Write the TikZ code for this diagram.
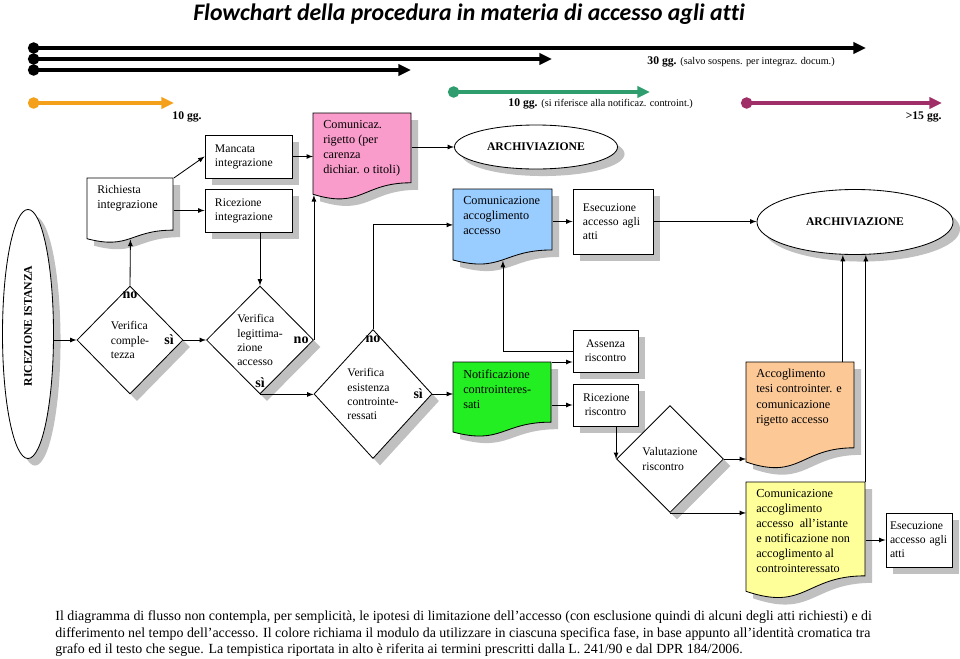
\documentclass[tikz,border=0pt]{standalone}
\usepackage{fontspec}
\setmainfont{Liberation Serif}
\newfontfamily\titlefont[Ligatures=NoCommon]{Carlito}
\usetikzlibrary{shapes.geometric,shadows,arrows.meta}

\definecolor{shadowgray}{HTML}{C0C0C0}
\definecolor{rigettopink}{HTML}{F99CCB}
\definecolor{accessoblue}{HTML}{99CCFF}
\definecolor{notifgreen}{HTML}{22EE22}
\definecolor{accoglpeach}{HTML}{FBC896}
\definecolor{comunicyellow}{HTML}{FFFF99}
\definecolor{lineorange}{HTML}{F5A01A}
\definecolor{linegreen}{HTML}{2F9D6E}
\definecolor{linemagenta}{HTML}{A02F68}

% document shape: name, x, y, width, height (pixels), fill, text
\newcommand{\docnode}[7]{%
  \filldraw[docshape, fill=#6] (#2,#3) -- ({#2+#4},#3) -- ({#2+#4},{#3+0.802*#5})
    .. controls ({#2+0.5*#4},{#3+0.802*#5}) and ({#2+0.5*#4},{#3+1.1075*#5}) .. (#2,{#3+0.934*#5}) -- cycle;
  \node[docarea, minimum width={#4*0.025cm}, minimum height={0.934*#5*0.025cm},
    label={[doctext]north west:{#7}}] (#1) at (#2,#3) {};
}

\begin{document}
\begin{tikzpicture}[x=0.025cm,y=-0.025cm,>=latex,line width=0.6pt]
        \tikzstyle{shadowed} = [drop shadow={shadow xshift=5pt, shadow yshift=-5pt, opacity=1, fill=shadowgray}]
        \tikzstyle{block} = [rectangle, draw, fill=white, shadowed, align=left, inner xsep=0.25cm, font=\fontsize{8.3}{10}\selectfont]
        \tikzstyle{decision} = [diamond, draw, fill=white, shadowed, inner sep=0pt, align=left, font=\fontsize{8.3}{10}\selectfont]
        \tikzstyle{terminal} = [ellipse, draw, fill=white, shadowed, font=\bfseries\fontsize{8.3}{10}\selectfont]
        \tikzstyle{docshape} = [draw, shadowed]
        \tikzstyle{docarea} = [rectangle, anchor=north west, inner sep=0pt]
        \tikzstyle{doctext} = [anchor=north west, align=left, inner xsep=7pt, inner ysep=5pt, font=\fontsize{8.7}{10.7}\selectfont]
        \tikzstyle{answer} = [font=\bfseries\fontsize{10}{12}\selectfont, inner sep=1.5pt]
        \tikzstyle{arrow} = [->]
        \tikzstyle{timeline} = [line width=2.6pt, {Circle[length=8pt]}-{Triangle[length=9pt,width=8pt]}]
        \tikzstyle{daylabel} = [inner sep=0pt, font=\bfseries\fontsize{8.3}{10}\selectfont]

        \useasboundingbox (0,0) rectangle (960,658);

        % Title
        \node[font=\titlefont\bfseries\itshape\fontsize{16.9}{19}\selectfont] (title) at (469,14) {Flowchart della procedura in materia di accesso agli atti};

        % Timelines
        \coordinate (tl1 start) at (28,48);
        \coordinate (tl1 end) at (866,48);
        \coordinate (tl2 start) at (28,59);
        \coordinate (tl2 end) at (552,59);
        \coordinate (tl3 start) at (28,70);
        \coordinate (tl3 end) at (411,70);
        \coordinate (orange start) at (28,103);
        \coordinate (orange end) at (174,103);
        \coordinate (green start) at (448,92);
        \coordinate (green end) at (650,92);
        \coordinate (magenta start) at (741,103);
        \coordinate (magenta end) at (942,103);
        \draw[timeline] (tl1 start) -- (tl1 end);
        \draw[timeline] (tl2 start) -- (tl2 end);
        \draw[timeline] (tl3 start) -- (tl3 end);
        \draw[timeline, lineorange] (orange start) -- (orange end);
        \draw[timeline, linegreen] (green start) -- (green end);
        \draw[timeline, linemagenta] (magenta start) -- (magenta end);
        \node[daylabel, anchor=west] (days30) at (647,62) {30 gg. {\mdseries\fontsize{7.3}{9}\selectfont (salvo sospens. per integraz. docum.)}};
        \node[daylabel, anchor=west] (days10a) at (172,117) {10 gg.};
        \node[daylabel, anchor=west] (days10b) at (508,104) {10 gg. {\mdseries\fontsize{7.3}{9}\selectfont (si riferisce alla notificaz. controint.)}};
        \node[daylabel, anchor=east] (days15) at (942,117) {>15 gg.};

        % Nodes
        \node[terminal, minimum width=1.275cm, minimum height=6.225cm] (ricezione) at (28,334) {\rotatebox{90}{\hspace*{0.4cm}RICEZIONE ISTANZA}};
        \node[decision, minimum width=2.65cm, minimum height=2.7cm,
              label={[answer, anchor=north, yshift=-3pt]north:no},
              label={[answer, anchor=east, xshift=-5pt]east:sì}] (completezza) at (130,340) {Verifica\\comple-\\tezza};
        \docnode{richiesta}{87}{178}{86}{65}{white}{\fontsize{8.3}{10}\selectfont Richiesta\\integrazione}
        \node[block, minimum width=2.175cm, minimum height=1.075cm, text width=1.675cm] (mancata) at (248.5,156.5) {Mancata\\integrazione};
        \node[block, minimum width=2.175cm, minimum height=1.075cm, text width=1.675cm] (ricezint) at (248.5,210.5) {Ricezione\\integrazione};
        \docnode{rigetto}{313}{113}{98}{87}{rigettopink}{Comunicaz.\\rigetto (per\\carenza\\dichiar. o titoli)}
        \node[terminal, minimum width=4.075cm, minimum height=1.1cm] (archiv1) at (536,147) {ARCHIVIAZIONE};
        \node[decision, minimum width=2.675cm, minimum height=2.7cm,
              label={[answer, anchor=east, xshift=-2pt]east:no},
              label={[answer, anchor=south, yshift=3pt]south:sì}] (legit) at (260,340) {Verifica\\legittima-\\zione\\accesso};
        \node[decision, minimum width=2.95cm, minimum height=3.225cm,
              label={[answer, anchor=north, yshift=-3pt]north:no},
              label={[answer, anchor=east, xshift=-5pt]east:sì}] (contro) at (373,394) {Verifica\\esistenza\\controinte-\\ressati};
        \docnode{accesso}{453}{189}{99}{76}{accessoblue}{Comunicazione\\accoglimento\\accesso}
        \docnode{notif}{453}{362}{98}{75}{notifgreen}{Notificazione\\controinteres-\\sati}
        \node[block, minimum width=2cm, minimum height=1.625cm, text width=1.5cm] (esec1) at (613,221.5) {Esecuzione\\accesso agli\\atti};
        \node[terminal, minimum width=4.9cm, minimum height=1.625cm] (archiv2) at (855,222) {ARCHIVIAZIONE};
        \node[block, align=center, minimum width=1.625cm, minimum height=1.05cm, text width=1.125cm] (assenza) at (605.5,351) {Assenza\\riscontro};
        \node[block, align=center, minimum width=1.625cm, minimum height=1.05cm, text width=1.125cm] (ricrisc) at (605.5,405) {Ricezione\\riscontro};
        \node[decision, minimum width=2.675cm, minimum height=2.675cm] (valut) at (670,459) {Valutazione\\riscontro};
        \docnode{accogl}{746}{362}{108}{107}{accoglpeach}{Accoglimento\\tesi controinter. e\\comunicazione\\rigetto accesso}
        \docnode{comunic}{746}{482}{119}{117}{comunicyellow}{Comunicazione\\accoglimento\\accesso~ all’istante\\e notificazione non\\accoglimento al\\controinteressato}
        \node[block, inner xsep=0.1cm, minimum width=1.65cm, minimum height=1.35cm, text width=1.45cm] (esec2) at (919,540) {Esecuzione\\accesso agli\\atti};

        % Connectors
        \draw[arrow] (ricezione.east |- completezza.west) -- (completezza.west);
        \draw[arrow] (completezza.north) -- (richiesta.south);
        \draw[arrow] (richiesta.north east) -- (mancata.west);
        \draw[arrow] (richiesta.east |- ricezint.west) -- (ricezint.west);
        \draw[arrow] (mancata.east) -- (mancata.east -| rigetto.west);
        \draw[arrow] (rigetto.east |- archiv1.west) -- (archiv1.west);
        \draw[arrow] (legit.north |- ricezint.south) -- (legit.north);
        \draw[arrow] (completezza.east) -- (legit.west);
        \draw[arrow] (legit.east) -- (legit.east |- rigetto.south west);
        \draw[arrow] (legit.south) -- (legit.south -| contro.west);
        \draw[arrow] (contro.north) |- (accesso.west);
        \draw[arrow] (contro.east) -- (contro.east -| notif.west);
        \draw[arrow] (notif.north east) -- (notif.north east -| assenza.west);
        \draw[arrow] (notif.east |- ricrisc.west) -- (ricrisc.west);
        \draw[arrow] (assenza.west) -| (accesso.south);
        \draw[arrow] (accesso.east |- esec1.west) -- (esec1.west);
        \draw[arrow] (esec1.east) -- (esec1.east -| archiv2.west);
        \draw[arrow] (valut.west |- ricrisc.south) -- (valut.west);
        \draw[arrow] (valut.east) -- (valut.east -| accogl.west);
        \draw[arrow] (valut.south) -- (valut.south -| comunic.west);
        \draw[arrow] ([xshift=-0.3cm]accogl.north east) -- ([xshift=-0.3cm]accogl.north east |- archiv2.south);
        \draw[arrow] (comunic.north east) -- (comunic.north east |- archiv2.south);
        \draw[arrow] (comunic.east |- esec2.west) -- (esec2.west);

        % Note
        \node[anchor=north west, inner sep=0pt, align=left, font=\fontsize{9.9}{12}\selectfont] (note) at (55,610) {Il diagramma di flusso non contempla, per semplicità, le ipotesi di limitazione dell’accesso (con esclusione quindi di alcuni degli atti richiesti) e di\\differimento nel tempo dell’accesso. Il colore richiama il modulo da utilizzare in ciascuna specifica fase, in base appunto all’identità cromatica tra\\grafo ed il testo che segue. La tempistica riportata in alto è riferita ai termini prescritti dalla L. 241/90 e dal DPR 184/2006.};
\end{tikzpicture}
\end{document}
